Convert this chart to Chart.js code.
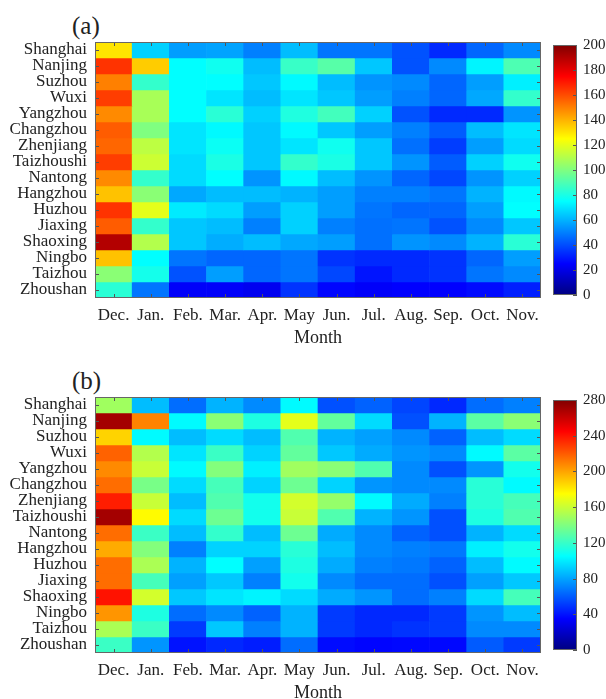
<!DOCTYPE html>
<html>
<head>
<meta charset="utf-8">
<script src="https://cdn.jsdelivr.net/npm/chart.js@4/dist/chart.umd.min.js"></script>
<style>
  body { margin: 0; background: #fff; overflow: hidden; }
  #wrap { position: relative; width: 606px; height: 699px; }
  canvas { position: absolute; }
  .tag { position: absolute; font-family: "Liberation Serif", serif; font-size: 25px; line-height: 1; color: #222; }
</style>
</head>
<body>
<div id="wrap">
  <div class="tag" style="left:72px;top:13px">(a)</div>
  <canvas id="heatA" width="548" height="350" style="left:0;top:0"></canvas>
  <canvas id="barA" width="61" height="280" style="left:545px;top:30px"></canvas>

  <div class="tag" style="left:72px;top:368px">(b)</div>
  <canvas id="heatB" width="548" height="350" style="left:0;top:355px"></canvas>
  <canvas id="barB" width="61" height="280" style="left:545px;top:385px"></canvas>
</div>
<script>
// months and cities
const months = ['Dec.', 'Jan.', 'Feb.', 'Mar.', 'Apr.', 'May', 'Jun.', 'Jul.', 'Aug.', 'Sep.', 'Oct.', 'Nov.'];
const cities = ['Shanghai', 'Nanjing', 'Suzhou', 'Wuxi', 'Yangzhou', 'Changzhou', 'Zhenjiang', 'Taizhoushi',
                'Nantong', 'Hangzhou', 'Huzhou', 'Jiaxing', 'Shaoxing', 'Ningbo', 'Taizhou', 'Zhoushan'];

// panel (a), one row per city, Dec..Nov
const valuesA = [
  [130, 66, 56, 57, 50, 62, 48, 48, 41, 33, 45, 52],
  [165, 135, 75, 78, 62, 86, 92, 64, 41, 52, 73, 90],
  [150, 85, 75, 75, 64, 74, 62, 54, 52, 45, 56, 72],
  [163, 108, 75, 70, 62, 70, 64, 56, 50, 45, 58, 85],
  [148, 108, 75, 83, 66, 81, 88, 66, 41, 33, 33, 54],
  [157, 100, 70, 74, 64, 74, 64, 56, 50, 43, 62, 70],
  [155, 112, 70, 77, 64, 70, 78, 64, 47, 37, 56, 68],
  [163, 115, 68, 80, 64, 85, 80, 64, 54, 43, 66, 78],
  [148, 85, 68, 75, 54, 74, 62, 54, 45, 39, 54, 66],
  [137, 102, 58, 62, 62, 60, 56, 50, 50, 48, 60, 74],
  [165, 120, 71, 68, 56, 66, 56, 48, 45, 45, 56, 75],
  [157, 85, 64, 62, 50, 66, 50, 47, 48, 41, 52, 64],
  [190, 110, 64, 59, 62, 58, 56, 47, 54, 52, 60, 83],
  [137, 75, 48, 45, 45, 48, 35, 33, 33, 35, 45, 56],
  [102, 79, 41, 56, 45, 48, 39, 29, 33, 35, 48, 52],
  [83, 48, 24, 24, 22, 35, 26, 24, 25, 25, 27, 31]
];

// panel (b)
const valuesB = [
  [149, 87, 65, 84, 73, 104, 57, 62, 54, 46, 65, 70],
  [270, 209, 104, 143, 113, 168, 132, 95, 57, 84, 130, 143],
  [187, 104, 87, 95, 87, 127, 84, 79, 73, 62, 87, 95],
  [218, 154, 98, 121, 93, 132, 90, 82, 76, 73, 104, 130],
  [207, 160, 104, 141, 101, 149, 143, 127, 73, 57, 76, 110],
  [215, 138, 95, 124, 93, 135, 93, 76, 73, 73, 116, 104],
  [237, 160, 87, 127, 110, 163, 146, 104, 82, 70, 116, 124],
  [270, 176, 95, 135, 110, 160, 127, 84, 76, 57, 113, 127],
  [215, 121, 87, 119, 87, 135, 82, 73, 62, 57, 84, 95],
  [198, 141, 70, 93, 93, 116, 87, 73, 70, 68, 101, 110],
  [215, 152, 84, 105, 79, 113, 82, 70, 68, 62, 87, 104],
  [215, 124, 79, 90, 70, 110, 73, 65, 65, 57, 79, 90],
  [240, 163, 90, 98, 102, 95, 82, 76, 65, 70, 95, 124],
  [204, 113, 65, 73, 62, 84, 51, 46, 46, 51, 76, 87],
  [152, 121, 51, 90, 70, 84, 51, 46, 49, 51, 73, 73],
  [121, 76, 40, 46, 43, 65, 38, 36, 37, 37, 60, 51]
];

// colorbar ticks
const colorTicksA = [0, 20, 40, 60, 80, 100, 120, 140, 160, 180, 200];
const colorTicksB = [0, 40, 80, 120, 160, 200, 240, 280];

const serif = '"Liberation Serif", "Times New Roman", serif';
const textColor = '#222';

// matlab style jet colormap
function jet(t) {
  t = Math.min(1, Math.max(0, t));
  const c = x => Math.round(255 * Math.min(1, Math.max(0, 1.5 - Math.abs(4 * t - x))));
  return 'rgb(' + c(3) + ',' + c(2) + ',' + c(1) + ')';
}

// box round the plot + small inward ticks
const frame = {
  id: 'frame',
  afterDraw(chart) {
    const ctx = chart.ctx, a = chart.chartArea, len = 4;
    const isBar = chart.options.plugins.frame && chart.options.plugins.frame.colorbar;
    ctx.save();
    ctx.strokeStyle = '#555';
    ctx.lineWidth = 1;
    ctx.beginPath();
    Object.values(chart.scales).forEach(s => {
      if (!s.options.display) return;
      s.ticks.forEach((t, i) => {
        const p = Math.round(s.getPixelForTick(i)) + 0.5;
        if (s.isHorizontal()) {
          ctx.moveTo(p, a.top); ctx.lineTo(p, a.top + len);
          ctx.moveTo(p, a.bottom); ctx.lineTo(p, a.bottom - len);
        } else {
          if (!isBar) { ctx.moveTo(a.left, p); ctx.lineTo(a.left + len, p); }
          ctx.moveTo(a.right, p); ctx.lineTo(a.right - len, p);
        }
      });
    });
    ctx.stroke();
    ctx.strokeStyle = '#666';
    ctx.strokeRect(a.left + 0.5, a.top + 0.5, a.width - 1, a.height - 1);
    ctx.restore();
  }
};

const noGrid = { display: false, drawTicks: false };

function heatmap(id, values, vmax) {
  return new Chart(document.getElementById(id), {
    type: 'bar',
    data: {
      labels: months,
      datasets: cities.map((city, i) => ({
        label: city,
        data: months.map(() => [i - 0.5, i + 0.5]),
        backgroundColor: values[i].map(v => jet(v / vmax)),
        borderWidth: 0,
        barPercentage: 1,
        categoryPercentage: 1,
        grouped: false
      }))
    },
    options: {
      responsive: false,
      animation: false,
      layout: { padding: { top: 42, right: 7, left: 0, bottom: 0 } },
      plugins: { legend: { display: false }, tooltip: { enabled: false } },
      scales: {
        x: {
          grid: noGrid,
          border: { display: false },
          ticks: { font: { family: serif, size: 17 }, color: textColor, padding: 7, maxRotation: 0, autoSkip: false },
          title: { display: true, text: 'Month', font: { family: serif, size: 18 }, color: textColor, padding: { top: 0, bottom: 1 } },
          afterFit: s => { s.height = 52; }
        },
        y: {
          reverse: true,
          min: -0.5,
          max: cities.length - 0.5,
          afterBuildTicks: s => { s.ticks = cities.map((c, i) => ({ value: i })); },
          ticks: { callback: v => cities[v], font: { family: serif, size: 17 }, color: textColor, padding: 8, autoSkip: false },
          grid: noGrid,
          border: { display: false },
          afterFit: s => { s.width = 95; }
        }
      }
    },
    plugins: [frame]
  });
}

function colorbar(id, vmax, tickVals) {
  return new Chart(document.getElementById(id), {
    type: 'bar',
    data: {
      labels: [''],
      datasets: [{
        data: [[0, vmax]],
        backgroundColor: c => {
          const area = c.chart.chartArea;
          if (!area) return null;
          const g = c.chart.ctx.createLinearGradient(0, area.bottom, 0, area.top);
          for (let k = 0; k <= 40; k++) g.addColorStop(k / 40, jet(k / 40));
          return g;
        },
        borderWidth: 0,
        barPercentage: 1,
        categoryPercentage: 1
      }]
    },
    options: {
      responsive: false,
      animation: false,
      layout: { padding: { top: 13, bottom: 12, left: 8, right: 0 } },
      plugins: { legend: { display: false }, tooltip: { enabled: false }, frame: { colorbar: true } },
      scales: {
        x: { display: false },
        y: {
          position: 'right',
          min: 0,
          max: vmax,
          afterBuildTicks: s => { s.ticks = tickVals.map(v => ({ value: v })); },
          ticks: { font: { family: serif, size: 15 }, color: textColor, padding: 6, autoSkip: false },
          grid: noGrid,
          border: { display: false },
          afterFit: s => { s.width = 29; }
        }
      }
    },
    plugins: [frame]
  });
}

heatmap('heatA', valuesA, 200);
colorbar('barA', 200, colorTicksA);
heatmap('heatB', valuesB, 280);
colorbar('barB', 280, colorTicksB);
</script>
</body>
</html>
